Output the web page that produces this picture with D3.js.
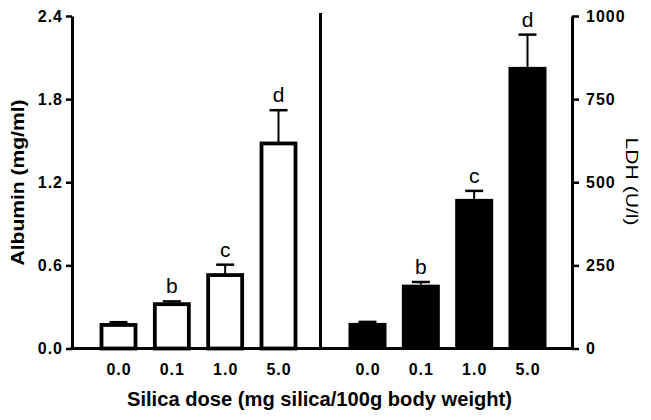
<!DOCTYPE html>
<html>
<head>
<meta charset="utf-8">
<script src="https://cdn.jsdelivr.net/npm/d3@7"></script>
<style>
  html, body { margin: 0; padding: 0; background: #fff; }
  svg { display: block; }
  text { font-family: "Liberation Sans", Arial, Helvetica, sans-serif; fill: #000; }
</style>
</head>
<body>
<svg id="chart" width="651" height="420"></svg>
<script>
// ---- data ----
const categories = ["0.0", "0.1", "1.0", "5.0"];
const albumin = [0.17, 0.32, 0.53, 1.48];
const albuminErr = [0.02, 0.02, 0.075, 0.24];
const ldh = [77, 192, 450, 847];
const ldhErr = [3, 8, 24, 97];
const letters = ["", "b", "c", "d"];
const albuminTicks = [0, 0.6, 1.2, 1.8, 2.4];
const ldhTicks = [0, 250, 500, 750, 1000];
const xTitle = "Silica dose (mg silica/100g body weight)";
const leftTitle = "Albumin (mg/ml)";
const rightTitle = "LDH (U/l)";

// ---- layout ----
const svg = d3.select("#chart");
const yTop = 16, yBase = 348.5;
const xLeftAxis = 72, xRightAxis = 572, xDivider = 320.5;
const tickFont = 16;

const yAlb = d3.scaleLinear().domain([0, 2.4]).range([yBase, yTop]);
const yLdh = d3.scaleLinear().domain([0, 1000]).range([yBase, yTop]);
const xAlb = d3.scalePoint().domain(categories).range([118.5, 278.5]);
const xLdh = d3.scalePoint().domain(categories).range([367.5, 527.5]);

// ---- axes ----
function styleAxis(g) {
  g.attr("font-size", null).attr("font-family", null);
  g.select(".domain").attr("stroke", "#000").attr("stroke-width", 3);
  g.selectAll(".tick line").attr("stroke", "#000").attr("stroke-width", 2.5);
  g.selectAll(".tick text")
    .style("font-size", tickFont + "px").style("font-weight", "bold")
    .style("letter-spacing", "1px")
    .attr("fill", "#000");
}

const leftAxis = svg.append("g")
  .attr("transform", `translate(${xLeftAxis},0)`)
  .call(d3.axisLeft(yAlb).tickValues(albuminTicks).tickFormat(d3.format(".1f"))
        .tickSize(6).tickSizeOuter(0).tickPadding(3));
styleAxis(leftAxis);

const rightAxis = svg.append("g")
  .attr("transform", `translate(${xRightAxis},0)`)
  .call(d3.axisRight(yLdh).tickValues(ldhTicks).tickFormat(d3.format("d"))
        .tickSize(7).tickSizeOuter(0).tickPadding(7));
styleAxis(rightAxis);

// baseline
svg.append("line")
  .attr("x1", xLeftAxis - 1.5).attr("x2", xRightAxis + 1.5)
  .attr("y1", yBase).attr("y2", yBase)
  .attr("stroke", "#000").attr("stroke-width", 3);

// divider
svg.append("line")
  .attr("x1", xDivider).attr("x2", xDivider)
  .attr("y1", 13).attr("y2", yBase)
  .attr("stroke", "#000").attr("stroke-width", 3);

// ---- bars: albumin (open) ----
const albBarW = 34;
const albG = svg.append("g");
albG.selectAll("rect").data(albumin).join("rect")
  .attr("x", (d, i) => xAlb(categories[i]) - albBarW / 2)
  .attr("y", d => yAlb(d))
  .attr("width", albBarW)
  .attr("height", d => yBase - yAlb(d))
  .attr("fill", "#fff").attr("stroke", "#000").attr("stroke-width", 3.8);

albG.selectAll("line.err").data(albumin).join("line")
  .attr("class", "err")
  .attr("x1", (d, i) => xAlb(categories[i])).attr("x2", (d, i) => xAlb(categories[i]))
  .attr("y1", d => yAlb(d)).attr("y2", (d, i) => yAlb(d + albuminErr[i]))
  .attr("stroke", "#000").attr("stroke-width", 2);
albG.selectAll("line.cap").data(albumin).join("line")
  .attr("class", "cap")
  .attr("x1", (d, i) => xAlb(categories[i]) - 9).attr("x2", (d, i) => xAlb(categories[i]) + 9)
  .attr("y1", (d, i) => yAlb(d + albuminErr[i])).attr("y2", (d, i) => yAlb(d + albuminErr[i]))
  .attr("stroke", "#000").attr("stroke-width", 2.5);
albG.selectAll("text.sig").data(albumin).join("text")
  .attr("class", "sig")
  .attr("x", (d, i) => xAlb(categories[i]))
  .attr("y", (d, i) => yAlb(d + albuminErr[i]) - 8)
  .attr("text-anchor", "middle").style("font-size", "21px")
  .text((d, i) => letters[i]);

// ---- bars: LDH (filled) ----
const ldhBarW = 38;
const ldhG = svg.append("g");
ldhG.selectAll("rect").data(ldh).join("rect")
  .attr("x", (d, i) => xLdh(categories[i]) - ldhBarW / 2)
  .attr("y", d => yLdh(d))
  .attr("width", ldhBarW)
  .attr("height", d => yBase - yLdh(d))
  .attr("fill", "#000");
ldhG.selectAll("line.err").data(ldh).join("line")
  .attr("class", "err")
  .attr("x1", (d, i) => xLdh(categories[i])).attr("x2", (d, i) => xLdh(categories[i]))
  .attr("y1", d => yLdh(d)).attr("y2", (d, i) => yLdh(d + ldhErr[i]))
  .attr("stroke", "#000").attr("stroke-width", 2);
ldhG.selectAll("line.cap").data(ldh).join("line")
  .attr("class", "cap")
  .attr("x1", (d, i) => xLdh(categories[i]) - 9).attr("x2", (d, i) => xLdh(categories[i]) + 9)
  .attr("y1", (d, i) => yLdh(d + ldhErr[i])).attr("y2", (d, i) => yLdh(d + ldhErr[i]))
  .attr("stroke", "#000").attr("stroke-width", 2.5);
ldhG.selectAll("text.sig").data(ldh).join("text")
  .attr("class", "sig")
  .attr("x", (d, i) => xLdh(categories[i]))
  .attr("y", (d, i) => yLdh(d + ldhErr[i]) - 8)
  .attr("text-anchor", "middle").style("font-size", "21px")
  .text((d, i) => letters[i]);

// ---- category labels ----
const catY = 374.5;
[xAlb, xLdh].forEach(xs => {
  svg.append("g").selectAll("text").data(categories).join("text")
    .attr("x", d => xs(d) + 0.5).attr("y", catY)
    .attr("text-anchor", "middle")
    .style("font-size", tickFont + "px").style("font-weight", "bold")
    .style("letter-spacing", "1px")
    .text(d => d);
});

// ---- titles ----
svg.append("text")
  .attr("x", 319.5).attr("y", 406)
  .attr("text-anchor", "middle").style("font-size", "20px").style("font-weight", "bold")
  .attr("textLength", 385).attr("lengthAdjust", "spacingAndGlyphs")
  .text(xTitle);

svg.append("text")
  .attr("transform", "translate(23.5,182.5) rotate(-90)")
  .attr("text-anchor", "middle").style("font-size", "19px").style("font-weight", "bold")
  .attr("textLength", 166).attr("lengthAdjust", "spacingAndGlyphs")
  .text(leftTitle);

svg.append("text")
  .attr("transform", "translate(626,181.5) rotate(90)")
  .attr("text-anchor", "middle").style("font-size", "17px")
  .attr("textLength", 88).attr("lengthAdjust", "spacingAndGlyphs")
  .text(rightTitle);
</script>
</body>
</html>
